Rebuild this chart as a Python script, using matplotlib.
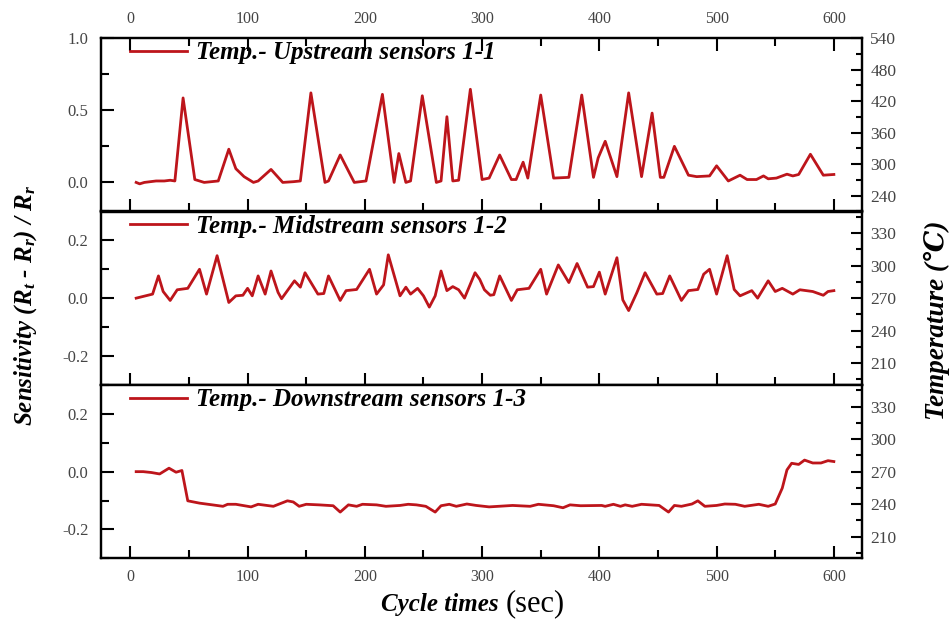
import numpy as np
import matplotlib.pyplot as plt
from matplotlib.ticker import MultipleLocator

# ---------------- data ----------------
up_t = [5, 8, 12, 22, 29, 34, 38, 45, 55, 63, 75, 84, 90, 97, 105, 109, 120, 130, 139, 145,
        154, 166, 169, 179, 191, 201, 215, 225, 229, 235, 239, 249, 261, 265, 270, 275, 280,
        290, 300, 306, 315, 325, 329, 335, 339, 350, 361, 374, 385, 395, 399, 405, 415, 425,
        436, 445, 452, 455, 464, 476, 483, 494, 500, 510, 520, 526, 534, 540, 544, 551, 560,
        565, 570, 580, 591, 600]
up_s = [0.0, -0.01, 0.0, 0.01, 0.01, 0.015, 0.01, 0.585, 0.02, 0.0, 0.01, 0.23, 0.095, 0.04,
        0.0, 0.01, 0.09, 0.0, 0.005, 0.01, 0.62, 0.0, 0.01, 0.19, 0.0, 0.01, 0.61, 0.0, 0.2,
        0.0, 0.01, 0.60, 0.0, 0.01, 0.455, 0.01, 0.015, 0.645, 0.02, 0.03, 0.19, 0.02, 0.02,
        0.14, 0.03, 0.605, 0.03, 0.035, 0.605, 0.035, 0.17, 0.285, 0.04, 0.62, 0.04, 0.48,
        0.035, 0.035, 0.25, 0.05, 0.04, 0.045, 0.115, 0.01, 0.05, 0.02, 0.02, 0.045, 0.025,
        0.03, 0.057, 0.045, 0.055, 0.195, 0.05, 0.055]

mid_t = [5, 14, 19, 24, 28, 34, 40, 49, 59, 65, 74, 84, 90, 96, 100, 104, 109, 115, 120, 126,
         129, 140, 145, 149, 160, 165, 169, 179, 184, 193, 204, 210, 216, 220, 230, 235, 239,
         245, 250, 255, 260, 265, 270, 275, 280, 285, 294, 298, 302, 307, 310, 315, 325, 330,
         340, 350, 355, 365, 374, 381, 390, 395, 400, 405, 415, 420, 425, 432, 439, 449, 454,
         460, 470, 476, 484, 489, 494, 500, 509, 515, 520, 530, 535, 544, 550, 556, 565, 571,
         582, 591, 595, 600]
mid_s = [0.0, 0.009, 0.014, 0.077, 0.023, -0.008, 0.029, 0.034, 0.1, 0.014, 0.147, -0.015,
         0.008, 0.01, 0.034, 0.008, 0.077, 0.014, 0.094, 0.02, -0.002, 0.06, 0.038, 0.088,
         0.014, 0.016, 0.077, -0.008, 0.026, 0.03, 0.1, 0.014, 0.046, 0.15, 0.008, 0.038,
         0.014, 0.034, 0.008, -0.031, 0.008, 0.094, 0.026, 0.04, 0.029, 0.0, 0.088, 0.065,
         0.029, 0.01, 0.012, 0.077, -0.008, 0.029, 0.034, 0.1, 0.014, 0.115, 0.054, 0.12,
         0.038, 0.04, 0.09, 0.014, 0.14, -0.006, -0.043, 0.019, 0.088, 0.014, 0.016, 0.077,
         -0.008, 0.026, 0.03, 0.083, 0.1, 0.014, 0.147, 0.03, 0.008, 0.026, 0.0, 0.06, 0.023,
         0.034, 0.014, 0.029, 0.023, 0.01, 0.023, 0.026]

down_t = [5, 11, 18, 25, 33, 39, 44, 49, 59, 70, 79, 83, 90, 103, 109, 122, 134, 139, 144,
          150, 161, 173, 179, 186, 193, 198, 210, 218, 230, 237, 244, 252, 260, 265, 272, 278,
          287, 295, 306, 326, 341, 348, 361, 369, 375, 384, 402, 405, 412, 418, 422, 428, 436,
          451, 459, 464, 470, 479, 484, 490, 500, 507, 516, 524, 536, 544, 550, 556, 560, 564,
          570, 575, 582, 589, 595, 600]
down_s = [0.0, 0.0, -0.003, -0.008, 0.012, -0.002, 0.004, -0.101, -0.109, -0.115, -0.12,
          -0.113, -0.113, -0.122, -0.113, -0.12, -0.101, -0.105, -0.12, -0.113, -0.115,
          -0.118, -0.14, -0.115, -0.12, -0.113, -0.115, -0.12, -0.117, -0.113, -0.115, -0.12,
          -0.14, -0.118, -0.113, -0.12, -0.112, -0.117, -0.122, -0.117, -0.12, -0.113, -0.118,
          -0.125, -0.115, -0.118, -0.117, -0.12, -0.113, -0.12, -0.115, -0.12, -0.113, -0.117,
          -0.14, -0.117, -0.12, -0.112, -0.101, -0.12, -0.117, -0.112, -0.113, -0.12, -0.113,
          -0.12, -0.112, -0.057, 0.006, 0.029, 0.025, 0.04, 0.03, 0.03, 0.038, 0.035]

labels = ['Temp.- Upstream sensors 1-1',
          'Temp.- Midstream sensors 1-2',
          'Temp.- Downstream sensors 1-3']

# ---------------- style ----------------
plt.rcParams['font.family'] = ['Liberation Serif', 'DejaVu Serif']
plt.rcParams['mathtext.fontset'] = 'custom'
plt.rcParams['mathtext.rm'] = 'Liberation Serif:bold:italic'
plt.rcParams['mathtext.it'] = 'Liberation Serif:bold:italic'
plt.rcParams['mathtext.default'] = 'rm'
plt.rcParams['axes.unicode_minus'] = False

red = '#bd151b'
tick_col = '#444444'

fig = plt.figure(figsize=(9.51, 6.25), dpi=100)
L, R = 101 / 951, 862 / 951
tops = [38, 211.5, 385]
h = 173.3

series = [(up_t, up_s), (mid_t, mid_s), (down_t, down_s)]
ylims = [(-0.2, 1.0), (-0.3, 0.3), (-0.3, 0.3)]
rlims = [(210, 540), (190, 350), (190, 350)]

for i in range(3):
    ax = fig.add_axes([L, 1 - (tops[i] + h) / 625, R - L, h / 625])
    t, s = series[i]
    ax.plot(t, s, color=red, lw=2, label=labels[i])
    ax.set_xlim(-25, 624)
    ax.set_ylim(*ylims[i])
    ax.xaxis.set_major_locator(MultipleLocator(100))
    ax.xaxis.set_minor_locator(MultipleLocator(50))
    if i == 0:
        ax.yaxis.set_major_locator(MultipleLocator(0.5))
        ax.yaxis.set_minor_locator(MultipleLocator(0.25))
    else:
        ax.yaxis.set_major_locator(MultipleLocator(0.2))
        ax.yaxis.set_minor_locator(MultipleLocator(0.1))
    ax.tick_params(which='both', direction='in', right=False, top=(i == 0),
                   labeltop=(i == 0), labelbottom=(i == 2),
                   labelcolor=tick_col, width=1.5)
    ax.tick_params(axis='x', labelsize=11.5, pad=8)
    ax.tick_params(axis='y', labelsize=12, pad=9)
    ax.tick_params(which='major', length=9)
    ax.tick_params(which='minor', length=6)
    for sp in ax.spines.values():
        sp.set_linewidth(1.6)

    ax2 = ax.twinx()
    ax2.set_ylim(*rlims[i])
    if i == 0:
        ax2.yaxis.set_major_locator(MultipleLocator(60))
        ax2.yaxis.set_minor_locator(MultipleLocator(30))
    else:
        ax2.yaxis.set_major_locator(MultipleLocator(30))
        ax2.yaxis.set_minor_locator(MultipleLocator(15))
    ax2.tick_params(which='both', direction='in', labelsize=12.5, labelcolor=tick_col,
                    width=1.5, pad=6)
    ax2.tick_params(which='major', length=8)
    ax2.tick_params(which='minor', length=4)
    for sp in ax2.spines.values():
        sp.set_linewidth(1.6)

    ax.legend(loc='upper left', bbox_to_anchor=(0.038, 0.98), frameon=False,
              borderaxespad=0, borderpad=0, handlelength=2.3, handletextpad=0.35,
              prop={'family': 'Liberation Serif', 'weight': 'bold', 'style': 'italic',
                    'size': 18})

fig.text(0.027, 0.512, r'Sensitivity ($R_t$ - $R_r$) / $R_r$', rotation=90,
         ha='center', va='center', fontsize=18, fontweight='bold', fontstyle='italic')
fig.text(0.985, 0.487, 'Temperature (\u2103)', rotation=90, ha='center', va='center',
         fontsize=19.5, fontweight='bold', fontstyle='italic')
fig.text(499 / 951, 1 - 611 / 625, 'Cycle times', ha='right', va='baseline',
         fontsize=18, fontweight='bold', fontstyle='italic')
fig.text(506 / 951, 1 - 611 / 625, '(sec)', ha='left', va='baseline', fontsize=22)

fig.savefig('out.png', dpi=100)
